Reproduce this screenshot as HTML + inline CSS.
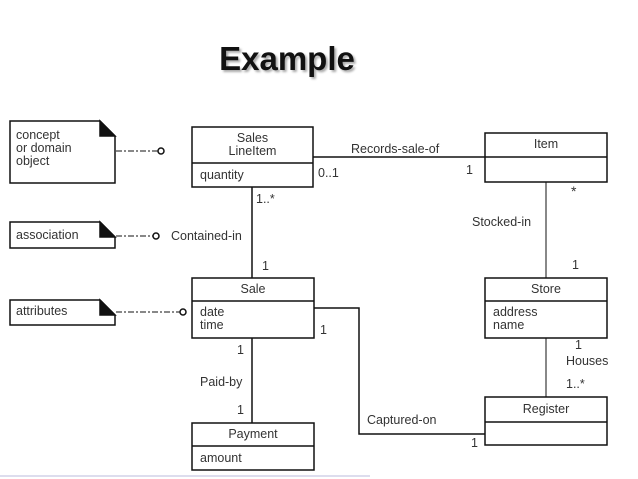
<!DOCTYPE html>
<html><head><style>
body{margin:0;background:#fff;width:638px;height:479px;overflow:hidden;position:relative;font-family:"Liberation Sans",sans-serif;}
.t{position:absolute;font-size:12.5px;color:#333;white-space:nowrap;line-height:13px}
</style></head><body>
<div style="position:absolute;left:0;top:40px;width:574px;text-align:center;font:bold 33px 'Liberation Sans',sans-serif;color:#111;text-shadow:2px 2px 2px #aaa">Example</div>
<svg width="638" height="479" style="position:absolute;left:0;top:0" fill="none" stroke="#111" stroke-width="1.5">
<rect x="192" y="127" width="121" height="60"/><line x1="192" y1="163" x2="313" y2="163"/>
<rect x="192" y="278" width="122" height="60"/><line x1="192" y1="301" x2="314" y2="301"/>
<rect x="192" y="423" width="122" height="47"/><line x1="192" y1="446" x2="314" y2="446"/>
<rect x="485" y="133" width="122" height="49"/><line x1="485" y1="157" x2="607" y2="157"/>
<rect x="485" y="278" width="122" height="60"/><line x1="485" y1="301" x2="607" y2="301"/>
<rect x="485" y="397" width="122" height="48"/><line x1="485" y1="422" x2="607" y2="422"/>
<path d="M10 121H100L115 136V183H10Z"/><path d="M100 121V136H115Z" fill="#111"/>
<path d="M10 222H100L115 237V248H10Z"/><path d="M100 222L115 237H100Z" fill="#111"/>
<path d="M10 300H100L115 315V325H10Z"/><path d="M100 300L115 315H100Z" fill="#111"/>
<g stroke-width="1" stroke-dasharray="6,2,2,2"><line x1="116" y1="151" x2="158" y2="151"/><line x1="116" y1="236" x2="153" y2="236"/><line x1="116" y1="312" x2="180" y2="312"/></g>
<g stroke-width="1.5" fill="#fff"><circle cx="161" cy="151" r="3"/><circle cx="156" cy="236" r="3"/><circle cx="183" cy="312" r="3"/></g>
<line x1="313" y1="157" x2="485" y2="157"/>
<line x1="252" y1="187" x2="252" y2="278"/>
<line x1="546" y1="182" x2="546" y2="278" stroke-width="1"/>
<line x1="546" y1="338" x2="546" y2="397" stroke-width="1"/>
<line x1="252" y1="338" x2="252" y2="423"/>
<polyline points="314,308 359,308 359,434 485,434"/>
<line x1="0" y1="476" x2="370" y2="476" stroke="#dde" stroke-width="2"/>
</svg>
<div class="t" style="left:192px;top:132px;width:121px;text-align:center">Sales<br>LineItem</div>
<div class="t" style="left:200px;top:169px">quantity</div>
<div class="t" style="left:192px;top:283px;width:122px;text-align:center">Sale</div>
<div class="t" style="left:200px;top:306px">date<br>time</div>
<div class="t" style="left:192px;top:428px;width:122px;text-align:center">Payment</div>
<div class="t" style="left:200px;top:452px">amount</div>
<div class="t" style="left:485px;top:138px;width:122px;text-align:center">Item</div>
<div class="t" style="left:485px;top:283px;width:122px;text-align:center">Store</div>
<div class="t" style="left:493px;top:306px">address<br>name</div>
<div class="t" style="left:485px;top:403px;width:122px;text-align:center">Register</div>
<div class="t" style="left:16px;top:129px">concept<br>or domain<br>object</div>
<div class="t" style="left:16px;top:229px">association</div>
<div class="t" style="left:16px;top:305px">attributes</div>
<div class="t" style="left:351px;top:143px">Records-sale-of</div>
<div class="t" style="left:318px;top:167px">0..1</div>
<div class="t" style="left:466px;top:164px">1</div>
<div class="t" style="left:571px;top:185px;font-size:14px">*</div>
<div class="t" style="left:472px;top:216px">Stocked-in</div>
<div class="t" style="left:572px;top:259px">1</div>
<div class="t" style="left:256px;top:193px">1..*</div>
<div class="t" style="left:171px;top:230px">Contained-in</div>
<div class="t" style="left:262px;top:260px">1</div>
<div class="t" style="left:320px;top:324px">1</div>
<div class="t" style="left:237px;top:344px">1</div>
<div class="t" style="left:200px;top:376px">Paid-by</div>
<div class="t" style="left:237px;top:404px">1</div>
<div class="t" style="left:367px;top:414px">Captured-on</div>
<div class="t" style="left:471px;top:437px">1</div>
<div class="t" style="left:575px;top:339px">1</div>
<div class="t" style="left:566px;top:355px">Houses</div>
<div class="t" style="left:566px;top:378px">1..*</div>
</body></html>
